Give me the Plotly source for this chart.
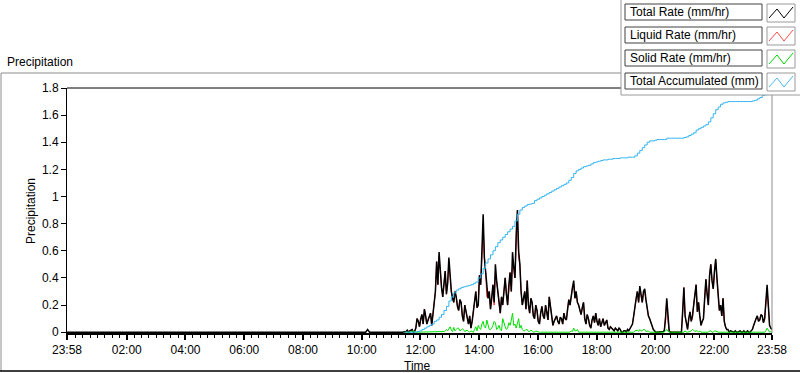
import pandas as pd
import plotly.graph_objects as go

# ---------------- data ----------------
axis_start = "2000-01-01 23:58"
axis_end = "2000-01-02 23:58"

# sparse points before the rain started
dry_times = ["2000-01-01 23:58", "2000-01-02 10:08", "2000-01-02 10:12",
             "2000-01-02 10:16", "2000-01-02 11:23"]
dry_total = [0.0, 0.0, 0.02, 0.0, 0.0]

# samples from 11:28 to 23:58: "main" every 5 min, "mid" halfway between
wet_start = "2000-01-02 11:28"
wet_half_step_s = 150

total_main = [
    0.0, 0.015, 0.01, 0.02, 0.005, 0.1, 0.04, 0.13, 0.17, 0.06,
    0.11, 0.05, 0.2, 0.52, 0.59, 0.33, 0.38, 0.28, 0.55, 0.3,
    0.22, 0.26, 0.16, 0.22, 0.08, 0.15, 0.06, 0.03, 0.15, 0.3,
    0.2, 0.35, 0.87, 0.45, 0.25, 0.17, 0.35, 0.5, 0.3, 0.14,
    0.2, 0.4, 0.2, 0.44, 0.59, 0.4, 0.9, 0.5, 0.2, 0.3,
    0.38, 0.14, 0.22, 0.1, 0.16, 0.06, 0.19, 0.1, 0.15, 0.26,
    0.1, 0.08, 0.12, 0.06, 0.1, 0.14, 0.09, 0.24, 0.28, 0.38,
    0.3, 0.2, 0.13, 0.22, 0.06, 0.1, 0.03, 0.12, 0.14, 0.05,
    0.04, 0.1, 0.07, 0.03, 0.04, 0.02, 0.03, 0.01, 0.02, 0.0,
    0.01, 0.02, 0.03, 0.06, 0.2, 0.3, 0.34, 0.22, 0.32, 0.18,
    0.1, 0.04, 0.01, 0.0, 0.0, 0.0, 0.01, 0.25, 0.01, 0.0,
    0.0, 0.0, 0.0, 0.0, 0.33, 0.06, 0.1, 0.08, 0.2, 0.35,
    0.22, 0.05, 0.1, 0.39, 0.2, 0.5, 0.32, 0.54, 0.3, 0.2,
    0.25, 0.04, 0.02, 0.01, 0.0, 0.01, 0.0, 0.01, 0.0, 0.0,
    0.01, 0.0, 0.02, 0.08, 0.12, 0.09, 0.12, 0.1, 0.35, 0.05,
    0.02,
]
total_mid = [
    0.005, 0.0, 0.015, 0.0, 0.03, 0.08, 0.1, 0.06, 0.12, 0.09,
    0.14, 0.12, 0.3, 0.35, 0.42, 0.26, 0.45, 0.36, 0.4, 0.25,
    0.3, 0.19, 0.24, 0.12, 0.2, 0.09, 0.12, 0.08, 0.22, 0.18,
    0.42, 0.6, 0.55, 0.33, 0.3, 0.25, 0.22, 0.38, 0.2, 0.26,
    0.3, 0.28, 0.35, 0.3, 0.48, 0.72, 0.6, 0.3, 0.25, 0.17,
    0.2, 0.25, 0.12, 0.2, 0.08, 0.14, 0.12, 0.2, 0.09, 0.18,
    0.05, 0.1, 0.08, 0.11, 0.06, 0.1, 0.17, 0.2, 0.33, 0.25,
    0.22, 0.15, 0.18, 0.1, 0.13, 0.05, 0.09, 0.07, 0.08, 0.1,
    0.07, 0.05, 0.09, 0.02, 0.03, 0.01, 0.02, 0.03, 0.0, 0.01,
    0.0, 0.01, 0.05, 0.12, 0.25, 0.22, 0.28, 0.3, 0.24, 0.12,
    0.07, 0.02, 0.0, 0.0, 0.0, 0.005, 0.1, 0.08, 0.0, 0.0,
    0.0, 0.0, 0.0, 0.15, 0.12, 0.02, 0.15, 0.12, 0.28, 0.15,
    0.12, 0.08, 0.25, 0.28, 0.42, 0.38, 0.45, 0.4, 0.16, 0.12,
    0.08, 0.02, 0.0, 0.005, 0.0, 0.0, 0.005, 0.0, 0.01, 0.0,
    0.0, 0.01, 0.05, 0.1, 0.08, 0.13, 0.07, 0.22, 0.2, 0.03,
]

liquid_main = [
    0.0, 0.015, 0.01, 0.02, 0.005, 0.1, 0.04, 0.13, 0.17, 0.06,
    0.11, 0.05, 0.2, 0.52, 0.56, 0.33, 0.38, 0.28, 0.52, 0.3,
    0.22, 0.26, 0.16, 0.22, 0.08, 0.15, 0.06, 0.03, 0.15, 0.3,
    0.2, 0.35, 0.8, 0.45, 0.25, 0.17, 0.35, 0.44, 0.3, 0.14,
    0.2, 0.4, 0.2, 0.44, 0.5, 0.4, 0.84, 0.5, 0.2, 0.3,
    0.38, 0.14, 0.22, 0.1, 0.16, 0.06, 0.19, 0.1, 0.15, 0.26,
    0.1, 0.08, 0.12, 0.06, 0.1, 0.14, 0.09, 0.24, 0.28, 0.35,
    0.3, 0.2, 0.13, 0.22, 0.06, 0.1, 0.03, 0.12, 0.14, 0.05,
    0.04, 0.1, 0.07, 0.03, 0.04, 0.02, 0.03, 0.01, 0.02, 0.0,
    0.01, 0.02, 0.03, 0.06, 0.2, 0.3, 0.32, 0.22, 0.3, 0.18,
    0.1, 0.04, 0.01, 0.0, 0.0, 0.0, 0.01, 0.23, 0.01, 0.0,
    0.0, 0.0, 0.0, 0.0, 0.33, 0.06, 0.1, 0.08, 0.2, 0.35,
    0.22, 0.05, 0.1, 0.39, 0.2, 0.5, 0.32, 0.53, 0.3, 0.2,
    0.25, 0.04, 0.02, 0.01, 0.0, 0.01, 0.0, 0.01, 0.0, 0.0,
    0.01, 0.0, 0.02, 0.08, 0.12, 0.09, 0.12, 0.1, 0.32, 0.05,
    0.02,
]
liquid_mid = [
    0.005, 0.0, 0.015, 0.0, 0.03, 0.08, 0.1, 0.06, 0.12, 0.09,
    0.14, 0.12, 0.3, 0.35, 0.42, 0.26, 0.45, 0.36, 0.37, 0.25,
    0.3, 0.19, 0.24, 0.12, 0.2, 0.09, 0.12, 0.08, 0.22, 0.18,
    0.42, 0.55, 0.55, 0.26, 0.3, 0.25, 0.2, 0.38, 0.2, 0.26,
    0.3, 0.28, 0.3, 0.3, 0.48, 0.65, 0.55, 0.3, 0.25, 0.17,
    0.2, 0.25, 0.12, 0.2, 0.08, 0.14, 0.12, 0.2, 0.09, 0.18,
    0.05, 0.1, 0.08, 0.11, 0.06, 0.1, 0.17, 0.2, 0.33, 0.25,
    0.22, 0.15, 0.18, 0.1, 0.13, 0.05, 0.09, 0.07, 0.08, 0.1,
    0.07, 0.05, 0.09, 0.02, 0.03, 0.01, 0.02, 0.03, 0.0, 0.01,
    0.0, 0.01, 0.05, 0.12, 0.24, 0.22, 0.28, 0.28, 0.24, 0.12,
    0.07, 0.02, 0.0, 0.0, 0.0, 0.005, 0.1, 0.08, 0.0, 0.0,
    0.0, 0.0, 0.0, 0.15, 0.12, 0.02, 0.15, 0.1, 0.28, 0.15,
    0.12, 0.08, 0.25, 0.28, 0.42, 0.38, 0.44, 0.4, 0.16, 0.12,
    0.08, 0.02, 0.0, 0.005, 0.0, 0.0, 0.005, 0.0, 0.01, 0.0,
    0.0, 0.01, 0.05, 0.1, 0.08, 0.13, 0.07, 0.22, 0.19, 0.03,
]

solid_main = [
    0, 0, 0.005, 0.01, 0, 0, 0, 0, 0, 0,
    0, 0, 0, 0, 0.005, 0, 0.005, 0.02, 0.03, 0.015,
    0.035, 0.02, 0.03, 0.015, 0.02, 0.01, 0.005, 0.01, 0, 0.04,
    0.05, 0.02, 0.08, 0.03, 0.06, 0.02, 0.05, 0.07, 0.03, 0.02,
    0.1, 0.04, 0.03, 0.05, 0.14, 0.06, 0.07, 0.03, 0.02, 0.01,
    0.02, 0.005, 0.01, 0, 0.005, 0, 0, 0, 0, 0,
    0, 0, 0, 0, 0, 0, 0, 0, 0.01, 0.03,
    0.01, 0, 0, 0, 0, 0, 0, 0, 0, 0,
    0, 0, 0, 0, 0, 0, 0, 0, 0, 0,
    0, 0, 0, 0, 0.01, 0.015, 0.02, 0.01, 0.02, 0.005,
    0, 0, 0, 0, 0, 0, 0, 0.02, 0, 0,
    0, 0, 0, 0, 0, 0, 0, 0.01, 0.015, 0.01,
    0, 0, 0, 0, 0, 0.01, 0, 0.01, 0, 0,
    0, 0, 0, 0, 0, 0, 0, 0, 0, 0,
    0, 0, 0, 0.005, 0, 0, 0, 0, 0.03, 0,
    0,
]
solid_mid = [
    0, 0, 0, 0.005, 0, 0, 0, 0, 0, 0,
    0, 0, 0, 0, 0, 0, 0.01, 0.01, 0.04, 0.005,
    0.01, 0.03, 0.01, 0.025, 0.005, 0.015, 0, 0.005, 0.02, 0.01,
    0.03, 0.06, 0.04, 0.09, 0.02, 0.03, 0.08, 0.02, 0.05, 0.01,
    0.06, 0.02, 0.07, 0.09, 0.05, 0.03, 0.1, 0.05, 0.01, 0.02,
    0.005, 0.015, 0, 0.01, 0, 0, 0, 0, 0, 0,
    0, 0, 0, 0, 0, 0, 0, 0, 0.005, 0.01,
    0.02, 0, 0, 0, 0, 0, 0, 0, 0, 0,
    0, 0, 0, 0, 0, 0, 0, 0, 0, 0,
    0, 0, 0, 0, 0.015, 0.005, 0.01, 0.02, 0.005, 0.01,
    0, 0, 0, 0, 0, 0, 0.01, 0.005, 0, 0,
    0, 0, 0, 0, 0.01, 0, 0.005, 0.02, 0.005, 0.01,
    0.01, 0, 0, 0.005, 0.01, 0, 0.01, 0.005, 0, 0,
    0, 0, 0, 0, 0, 0, 0, 0, 0, 0,
    0, 0, 0.005, 0, 0.005, 0, 0, 0.01, 0.015, 0.005,
]

# accumulated total, every 5 min from 11:28
accum_step_min = 5
total_accum = [
    0, 0, 0, 0, 0, 0.005, 0.01, 0.02, 0.03, 0.04,
    0.05, 0.06, 0.08, 0.09, 0.11, 0.13, 0.16, 0.19, 0.23, 0.26,
    0.29, 0.31, 0.32, 0.33, 0.335, 0.34, 0.345, 0.35, 0.36, 0.37,
    0.40, 0.43, 0.47, 0.51, 0.54, 0.57, 0.60, 0.63, 0.66, 0.68,
    0.70, 0.72, 0.74, 0.76, 0.78, 0.82, 0.87, 0.90, 0.92, 0.93,
    0.94, 0.945, 0.95, 0.97, 0.98, 0.99, 1.0, 1.01, 1.02, 1.03,
    1.04, 1.05, 1.06, 1.07, 1.08, 1.09, 1.10, 1.12, 1.14, 1.17,
    1.19, 1.20, 1.21, 1.22, 1.225, 1.23, 1.24, 1.25, 1.255, 1.26,
    1.265, 1.27, 1.27, 1.275, 1.275, 1.28, 1.28, 1.28, 1.285, 1.285,
    1.285, 1.29, 1.29, 1.29, 1.30, 1.32, 1.34, 1.36, 1.38, 1.40,
    1.41, 1.41, 1.415, 1.42, 1.42, 1.42, 1.42, 1.43, 1.43, 1.43,
    1.43, 1.43, 1.43, 1.43, 1.435, 1.44, 1.45, 1.46, 1.47, 1.49,
    1.50, 1.51, 1.52, 1.53, 1.55, 1.58, 1.61, 1.64, 1.66, 1.68,
    1.69, 1.695, 1.70, 1.70, 1.70, 1.70, 1.70, 1.70, 1.70, 1.70,
    1.70, 1.70, 1.705, 1.71, 1.72, 1.73, 1.745, 1.75, 1.76, 1.765,
    1.77,
]

x_tick_times = ["2000-01-01 23:58", "2000-01-02 02:00", "2000-01-02 04:00",
                "2000-01-02 06:00", "2000-01-02 08:00", "2000-01-02 10:00",
                "2000-01-02 12:00", "2000-01-02 14:00", "2000-01-02 16:00",
                "2000-01-02 18:00", "2000-01-02 20:00", "2000-01-02 22:00",
                "2000-01-02 23:58"]
x_tick_text = ["23:58", "02:00", "04:00", "06:00", "08:00", "10:00", "12:00",
               "14:00", "16:00", "18:00", "20:00", "22:00", "23:58"]
y_tick_vals = [0, 0.2, 0.4, 0.6, 0.8, 1.0, 1.2, 1.4, 1.6, 1.8]
y_tick_text = ["0", "0.2", "0.4", "0.6", "0.8", "1", "1.2", "1.4", "1.6", "1.8"]

legend_names = ["Total Rate (mm/hr)", "Liquid Rate (mm/hr)",
                "Solid Rate (mm/hr)", "Total Accumulated (mm)"]
series_colors = ["#000000", "#ff2a2a", "#00e000", "#33b4f0"]
legend_icon_colors = ["#000000", "#ff4a4a", "#00d800", "#4ab8f0"]

# ---------------- build ----------------
W, H = 800, 373
L, R, T, B = 67, 28, 88, 40
PW, PH = W - L - R, H - T - B


def px(x):
    return (x - L) / PW


def py(y):
    return (H - B - y) / PH


def interleave(main, mid):
    out = []
    for a, b in zip(main, mid):
        out += [a, b]
    out += main[len(mid):]
    return out


total_vals = interleave(total_main, total_mid)
liquid_vals = interleave(liquid_main, liquid_mid)
solid_vals = interleave(solid_main, solid_mid)
wet_times = list(pd.date_range(wet_start, periods=len(total_vals),
                               freq=f"{wet_half_step_s}s"))
accum_times = list(pd.date_range(wet_start, periods=len(total_accum),
                                 freq=f"{accum_step_min}min"))
dry_dt = list(pd.to_datetime(dry_times))

FONT = "Liberation Sans"

fig = go.Figure()
fig.add_trace(go.Scatter(x=wet_times, y=liquid_vals, mode="lines",
                         line=dict(color=series_colors[1], width=1),
                         name=legend_names[1]))
fig.add_trace(go.Scatter(x=dry_dt + wet_times, y=dry_total + total_vals,
                         mode="lines",
                         line=dict(color=series_colors[0], width=1.5),
                         name=legend_names[0]))
fig.add_trace(go.Scatter(x=wet_times, y=solid_vals, mode="lines",
                         line=dict(color=series_colors[2], width=1),
                         name=legend_names[2]))
fig.add_trace(go.Scatter(x=accum_times, y=total_accum, mode="lines",
                         line=dict(color=series_colors[3], width=1, shape="hv"),
                         name=legend_names[3]))

shapes = []
# outer panel frame
shapes.append(dict(type="line", xref="paper", yref="paper",
                   x0=px(1), x1=px(621), y0=py(73), y1=py(73),
                   line=dict(color="#8c8c8c", width=1), layer="above"))
shapes.append(dict(type="line", xref="paper", yref="paper",
                   x0=px(1), x1=px(1), y0=py(73), y1=py(371),
                   line=dict(color="#8c8c8c", width=1), layer="above"))
shapes.append(dict(type="line", xref="paper", yref="paper",
                   x0=px(0), x1=px(800), y0=py(371), y1=py(371),
                   line=dict(color="#000000", width=1.5), layer="above"))
# plot borders: top black, right gray
shapes.append(dict(type="line", xref="paper", yref="paper",
                   x0=0, x1=1, y0=1, y1=1,
                   line=dict(color="#000000", width=1), layer="above"))
shapes.append(dict(type="line", xref="paper", yref="paper",
                   x0=1, x1=1, y0=0, y1=1,
                   line=dict(color="#8c8c8c", width=1), layer="above"))
# legend panel
shapes.append(dict(type="rect", xref="paper", yref="paper",
                   x0=px(621), x1=px(802), y0=py(95), y1=py(-2),
                   fillcolor="white", line=dict(color="#9a9a9a", width=1),
                   layer="above"))
annotations = []
for i, name in enumerate(legend_names):
    top = 4 + 23 * i
    shapes.append(dict(type="rect", xref="paper", yref="paper",
                       x0=px(625), x1=px(762), y0=py(top + 16), y1=py(top),
                       fillcolor="white", line=dict(color="#404040", width=1),
                       layer="above"))
    shapes.append(dict(type="rect", xref="paper", yref="paper",
                       x0=px(767), x1=px(795), y0=py(top + 18), y1=py(top),
                       fillcolor="white", line=dict(color="#9a9a9a", width=1),
                       layer="above"))
    path = "M {} {} L {} {} L {} {} L {} {}".format(
        px(769), py(top + 14), px(777), py(top + 5),
        px(784), py(top + 14), px(793), py(top + 3))
    shapes.append(dict(type="path", xref="paper", yref="paper", path=path,
                       line=dict(color=legend_icon_colors[i], width=1),
                       layer="above"))
    annotations.append(dict(xref="paper", yref="paper", x=px(628),
                            y=py(top + 8), xanchor="left", yanchor="middle",
                            text=name, showarrow=False,
                            font=dict(family=FONT, size=12, color="#000")))

annotations.append(dict(xref="paper", yref="paper", x=px(5), y=py(62),
                        xanchor="left", yanchor="middle", text="Precipitation",
                        showarrow=False,
                        font=dict(family=FONT, size=12, color="#000")))
annotations.append(dict(xref="paper", yref="paper", x=px(417), y=py(366),
                        xanchor="center", yanchor="middle", text="Time",
                        showarrow=False,
                        font=dict(family=FONT, size=12, color="#000")))
annotations.append(dict(xref="paper", yref="paper", x=px(31), y=py(211),
                        xanchor="center", yanchor="middle", text="Precipitation",
                        textangle=-90, showarrow=False,
                        font=dict(family=FONT, size=12, color="#000")))

fig.update_layout(
    width=W, height=H,
    margin=dict(l=L, r=R, t=T, b=B, pad=0),
    paper_bgcolor="white", plot_bgcolor="white",
    showlegend=False,
    font=dict(family=FONT, size=12, color="#000"),
    shapes=shapes, annotations=annotations,
    xaxis=dict(
        type="date", range=[axis_start, axis_end],
        tickmode="array", tickvals=x_tick_times, ticktext=x_tick_text,
        ticks="outside", ticklen=5, tickwidth=2, tickcolor="#000",
        showline=True, linecolor="#000", linewidth=2,
        showgrid=False, zeroline=False,
        tickfont=dict(family=FONT, size=12, color="#000"),
        minor=dict(dtick=15 * 60 * 1000, tick0="2000-01-02 00:00",
                   ticks="outside", ticklen=3, tickwidth=1, tickcolor="#000",
                   showgrid=False),
    ),
    yaxis=dict(
        range=[-0.006, 1.8],
        tickmode="array", tickvals=y_tick_vals, ticktext=y_tick_text,
        ticks="outside", ticklen=5, tickwidth=1, tickcolor="#000",
        showline=True, linecolor="#000", linewidth=1,
        showgrid=False, zeroline=False,
        tickfont=dict(family=FONT, size=12, color="#000"),
    ),
)

fig.write_html("out.html", config={"displayModeBar": False},
               post_script="document.body.style.margin='0px';"
                           "document.body.style.padding='0px';")
